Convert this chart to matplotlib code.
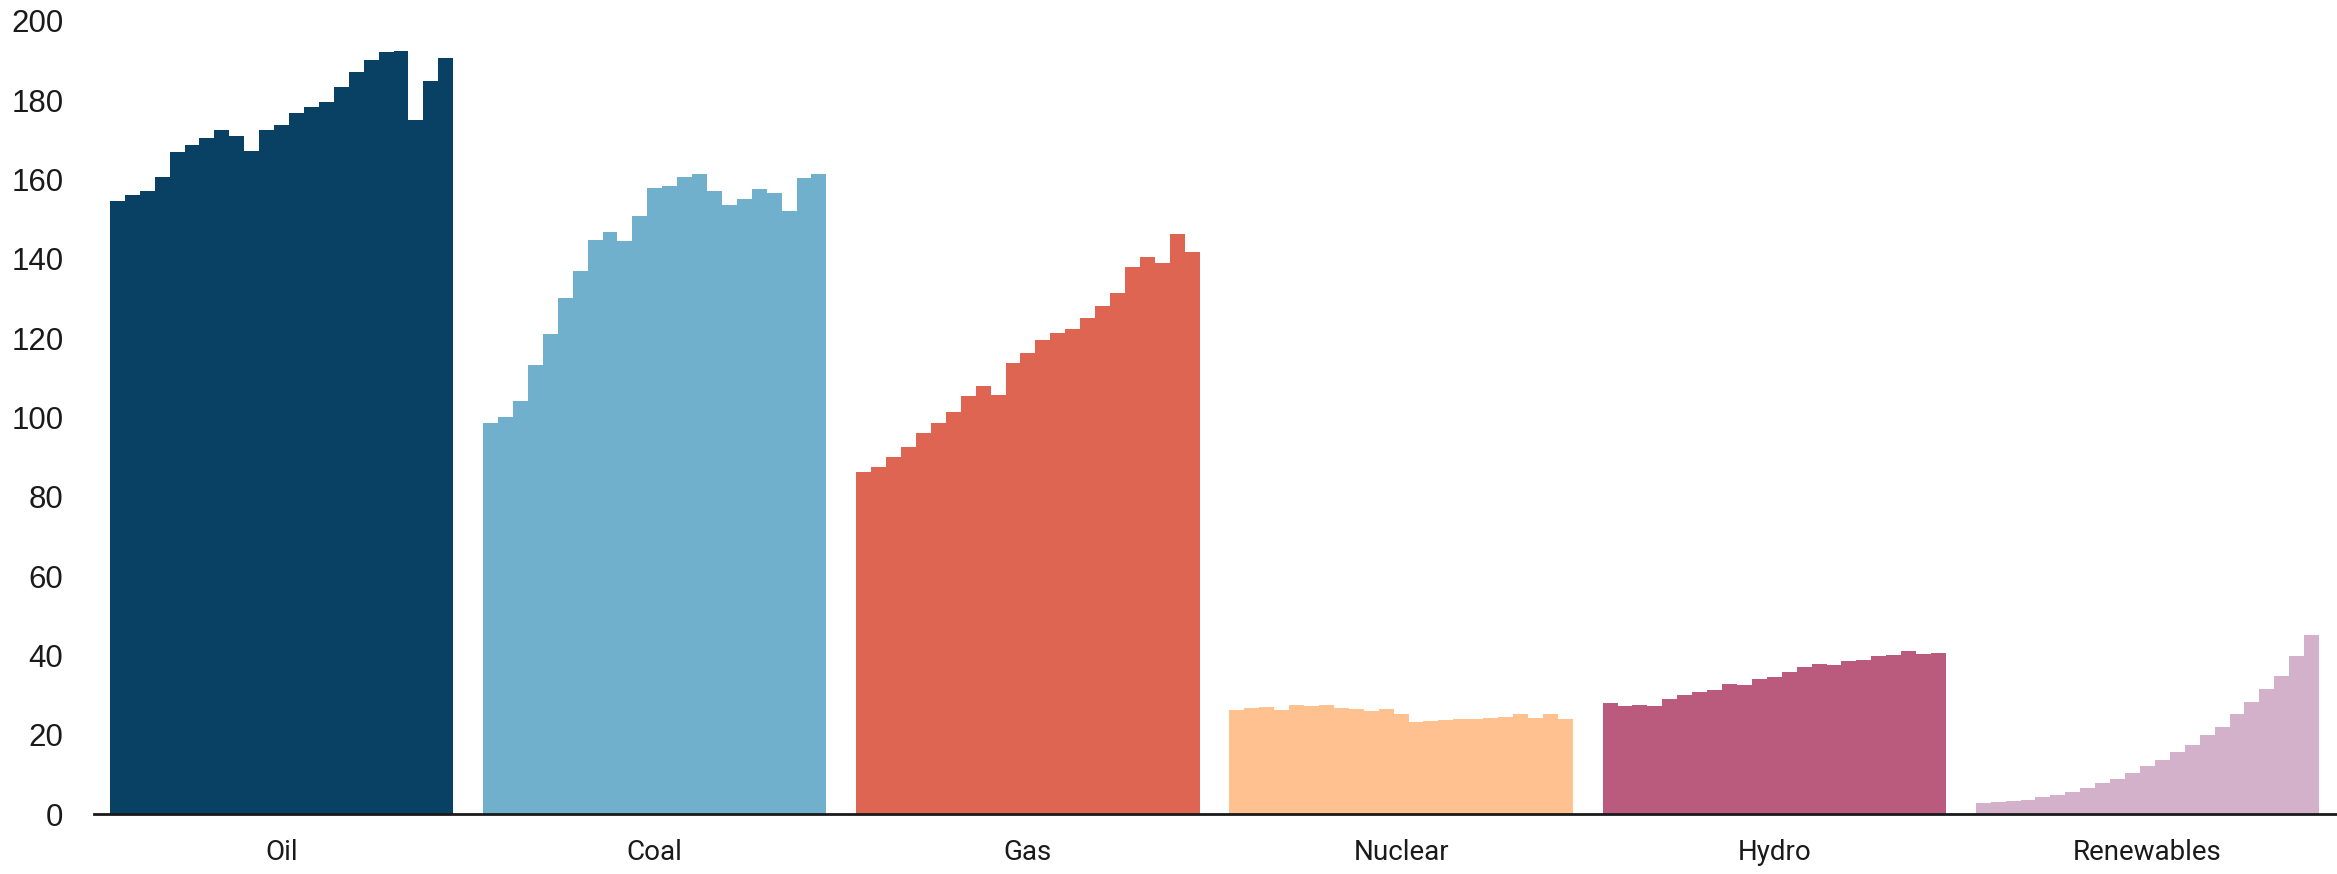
import numpy as np
import matplotlib
matplotlib.use("Agg")
import matplotlib.pyplot as plt

categories = ["Oil", "Coal", "Gas", "Nuclear", "Hydro", "Renewables"]
colors = ["#084164", "#71B0CD", "#DE6552", "#FEC18F", "#BA5A7C", "#D3B1CB"]

oil = [154.6, 156.1, 157.1, 160.7, 167.0, 168.7, 170.5, 172.5, 171.0, 167.2, 172.5, 173.8,
       176.8, 178.3, 179.6, 183.4, 187.1, 190.2, 192.2, 192.4, 175.0, 184.9, 190.7]
coal = [98.6, 100.1, 104.2, 113.2, 121.1, 130.1, 136.9, 144.8, 146.8, 144.5, 150.8, 157.9,
        158.4, 160.7, 161.4, 157.1, 153.6, 155.1, 157.6, 156.6, 152.1, 160.4, 161.4]
gas = [86.3, 87.5, 90.0, 92.6, 96.1, 98.6, 101.4, 105.4, 107.9, 105.7, 113.7, 116.3,
       119.5, 121.3, 122.3, 125.1, 128.1, 131.4, 138.0, 140.5, 139.0, 146.3, 141.7]
nuclear = [26.2, 26.7, 27.0, 26.2, 27.5, 27.2, 27.5, 26.7, 26.5, 26.0, 26.5, 25.2,
           23.2, 23.5, 23.7, 24.0, 24.0, 24.2, 24.5, 25.2, 24.2, 25.2, 24.0]
hydro = [28.0, 27.2, 27.5, 27.2, 29.0, 30.0, 30.8, 31.3, 32.8, 32.5, 34.0, 34.6,
         35.8, 37.1, 37.8, 37.6, 38.6, 38.8, 39.8, 40.1, 41.1, 40.4, 40.6]
renewables = [2.8, 3.0, 3.3, 3.5, 4.3, 4.8, 5.5, 6.6, 7.8, 8.8, 10.3, 12.1,
              13.6, 15.6, 17.4, 19.9, 21.9, 25.2, 28.2, 31.5, 34.8, 39.8, 45.1]

series = [oil, coal, gas, nuclear, hydro, renewables]
gap = 2  # empty bar slots between groups

fig = plt.figure(figsize=(23.37, 8.74), dpi=100)
ax = fig.add_axes([0.0402, 0.0686, 0.9598, 0.9074])

centers = []
for i, (vals, c) in enumerate(zip(series, colors)):
    start = i * (len(vals) + gap)
    x = start + np.arange(len(vals))
    ax.bar(x, vals, width=1.0, align="edge", color=c, linewidth=0)
    centers.append(start + len(vals) / 2)

ax.set_xlim(-1.07, 149.2)
ax.set_ylim(0, 200)
ax.set_yticks(range(0, 201, 20))
ax.set_xticks(centers)
ax.set_xticklabels(categories)

for s in ["top", "right", "left"]:
    ax.spines[s].set_visible(False)
ax.spines["bottom"].set_linewidth(2)
ax.spines["bottom"].set_color("#1a1a1a")

ax.tick_params(axis="both", length=0, colors="#1a1a1a")
ax.tick_params(axis="y", pad=22, labelsize=22.5)
ax.tick_params(axis="x", pad=18, labelsize=20)
for lab in ax.get_yticklabels():
    lab.set_fontfamily("Liberation Sans")
for lab in ax.get_xticklabels():
    lab.set_fontfamily("Roboto")

fig.savefig("out.png", dpi=100)
